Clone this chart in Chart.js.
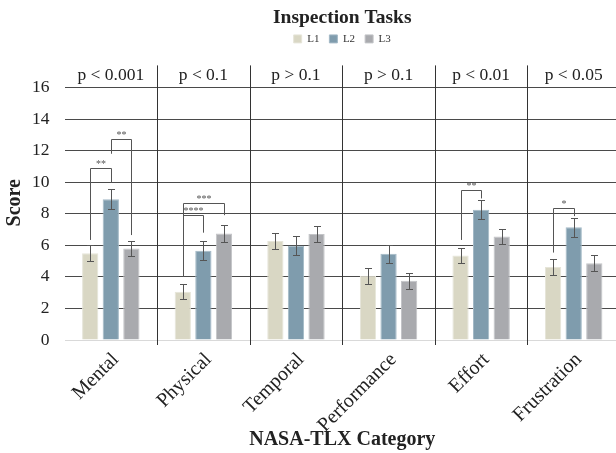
<!DOCTYPE html>
<html>
<head>
<meta charset="utf-8">
<style>
  html, body { margin: 0; padding: 0; background: #fff; overflow: hidden; width: 616px; height: 453px; }
  canvas { display: block; }
</style>
<script src="https://cdn.jsdelivr.net/npm/chart.js@4/dist/chart.umd.min.js"></script>
</head>
<body>
<canvas id="chart" width="620" height="453"></canvas>
<script>
// NASA-TLX workload scores for the three inspection-task levels
const categories = ['Mental', 'Physical', 'Temporal', 'Performance', 'Effort', 'Frustration'];
const pValues    = ['p < 0.001', 'p < 0.1', 'p > 0.1', 'p > 0.1', 'p < 0.01', 'p < 0.05'];

const l1Means = [5.50, 3.05, 6.27, 4.07, 5.36, 4.62];
const l2Means = [8.92, 5.65, 5.97, 5.46, 8.25, 7.15];
const l3Means = [5.80, 6.75, 6.71, 3.75, 6.56, 4.87];

const l1Err = [0.50, 0.48, 0.48, 0.50, 0.47, 0.49];
const l2Err = [0.62, 0.60, 0.60, 0.59, 0.61, 0.61];
const l3Err = [0.50, 0.53, 0.52, 0.52, 0.50, 0.50];

// Pairwise significance brackets:
// [category, from series, to series, bracket height, left leg end, right leg end, stars]
const brackets = [
  [0, 0, 1, 10.90, 6.34, 9.95, '**'],
  [0, 1, 2, 12.75, 11.80, 6.65, '**'],
  [1, 0, 2, 8.65, 4.02, 7.91, '***'],
  [1, 0, 1, 7.91, 4.02, 6.80, '****'],
  [4, 0, 1, 9.53, 6.34, 8.97, '**'],
  [5, 0, 1, 8.34, 5.54, 7.85, '*']
];

const yMaxTick = 16;
const SERIF = '"Liberation Serif", "DejaVu Serif", serif';
const errors = [l1Err, l2Err, l3Err];

const overlay = {
  id: 'overlay',
  beforeInit(chart) {
    // leave a header band between the legend and the plot for the p-value row
    const legend = chart.legend;
    if (legend) {
      const fit = legend.fit;
      legend.fit = function () { fit.call(this); this.height += 11; };
    }
  },
  afterDatasetsDraw(chart) {
    const { ctx, scales: { y } } = chart;
    ctx.save();
    ctx.strokeStyle = '#555';
    ctx.lineWidth = 1;
    // error bars
    chart.data.datasets.forEach((ds, i) => {
      const meta = chart.getDatasetMeta(i);
      meta.data.forEach((bar, j) => {
        const v = ds.data[j], e = errors[i][j];
        const yt = Math.round(y.getPixelForValue(v + e)) + 0.5;
        const yb = Math.round(y.getPixelForValue(v - e)) + 0.5;
        const cx = Math.round(bar.x) + 0.5;
        ctx.beginPath();
        ctx.moveTo(cx, yt); ctx.lineTo(cx, yb);
        ctx.moveTo(cx - 3.5, yt); ctx.lineTo(cx + 3.5, yt);
        ctx.moveTo(cx - 3.5, yb); ctx.lineTo(cx + 3.5, yb);
        ctx.stroke();
      });
    });
    // significance brackets
    ctx.fillStyle = '#555';
    ctx.font = '10px ' + SERIF;
    ctx.textAlign = 'center';
    ctx.textBaseline = 'alphabetic';
    brackets.forEach(([c, a, b, top, la, lb, txt]) => {
      const xa = Math.round(chart.getDatasetMeta(a).data[c].x) + 0.5;
      const xb = Math.round(chart.getDatasetMeta(b).data[c].x) + 0.5;
      const yt = Math.round(y.getPixelForValue(top)) + 0.5;
      ctx.beginPath();
      ctx.moveTo(xa, y.getPixelForValue(la));
      ctx.lineTo(xa, yt);
      ctx.lineTo(xb, yt);
      ctx.lineTo(xb, y.getPixelForValue(lb));
      ctx.stroke();
      ctx.fillText(txt, (xa + xb) / 2, yt - 2);
    });
    ctx.restore();
  },
  afterDraw(chart) {
    const { ctx, chartArea, scales: { x, y } } = chart;
    ctx.save();
    // category separators
    ctx.strokeStyle = '#333';
    ctx.lineWidth = 1;
    const step = x.getPixelForValue(1) - x.getPixelForValue(0);
    for (let i = 1; i < categories.length; i++) {
      const px = Math.round(x.getPixelForValue(i) - step / 2) + 0.5;
      ctx.beginPath();
      ctx.moveTo(px, chartArea.top);
      ctx.lineTo(px, chartArea.bottom + 5);
      ctx.stroke();
    }
    // p-value header row
    ctx.fillStyle = '#222';
    ctx.font = '17.5px ' + SERIF;
    ctx.textAlign = 'center';
    ctx.textBaseline = 'middle';
    const yMid = (chartArea.top + y.getPixelForValue(yMaxTick)) / 2;
    pValues.forEach((p, i) => ctx.fillText(p, x.getPixelForValue(i), yMid - 1));
    ctx.restore();
  }
};

new Chart(document.getElementById('chart'), {
  type: 'bar',
  data: {
    labels: categories,
    datasets: [
      { label: 'L1', data: l1Means, backgroundColor: '#d9d7c4', borderColor: '#e6e5d9', borderWidth: 1 },
      { label: 'L2', data: l2Means, backgroundColor: '#7f9cad', borderColor: '#a3b9c6', borderWidth: 1 },
      { label: 'L3', data: l3Means, backgroundColor: '#a9aaae', borderColor: '#c3c4c7', borderWidth: 1 }
    ]
  },
  options: {
    responsive: false,
    animation: false,
    devicePixelRatio: 1,
    layout: { padding: { left: 3, right: 0, top: 0, bottom: 1 } },
    datasets: { bar: { categoryPercentage: 0.667, barPercentage: 0.79 } },
    plugins: {
      title: {
        display: true, text: 'Inspection Tasks', fullSize: false,
        font: { family: SERIF, size: 19.5, weight: 'bold' }, color: '#222',
        padding: { top: 6, bottom: -6 }
      },
      legend: {
        fullSize: false,
        labels: { boxWidth: 8, boxHeight: 8, font: { family: SERIF, size: 11 }, color: '#333', padding: 10 }
      },
      tooltip: { enabled: false }
    },
    scales: {
      x: {
        grid: { display: false },
        border: { display: false },
        afterFit: s => { s.paddingLeft = 0; s.paddingRight = 0; s.height = 112; },
        ticks: { minRotation: 45, maxRotation: 45, font: { family: SERIF, size: 20 }, color: '#222', padding: 0, labelOffset: 5 },
        title: { display: true, text: 'NASA-TLX Category', font: { family: SERIF, size: 20, weight: 'bold' }, color: '#222', padding: { top: 0, bottom: 0 } }
      },
      y: {
        min: 0, max: 17.4,
        afterBuildTicks: s => { s.ticks = s.ticks.filter(t => t.value <= yMaxTick); },
        afterFit: s => { s.width = 61.5; },
        ticks: { stepSize: 2, font: { family: SERIF, size: 17.5 }, color: '#222', padding: 15 },
        grid: {
          drawTicks: false, lineWidth: 1,
          color: c => (c.tick && c.tick.value === 0) ? '#d9d9d9' : '#4a4a4a'
        },
        border: { display: false },
        title: { display: true, text: 'Score', font: { family: SERIF, size: 20, weight: 'bold' }, color: '#222', padding: { top: 0, bottom: 4 } }
      }
    }
  },
  plugins: [overlay]
});
</script>
</body>
</html>
